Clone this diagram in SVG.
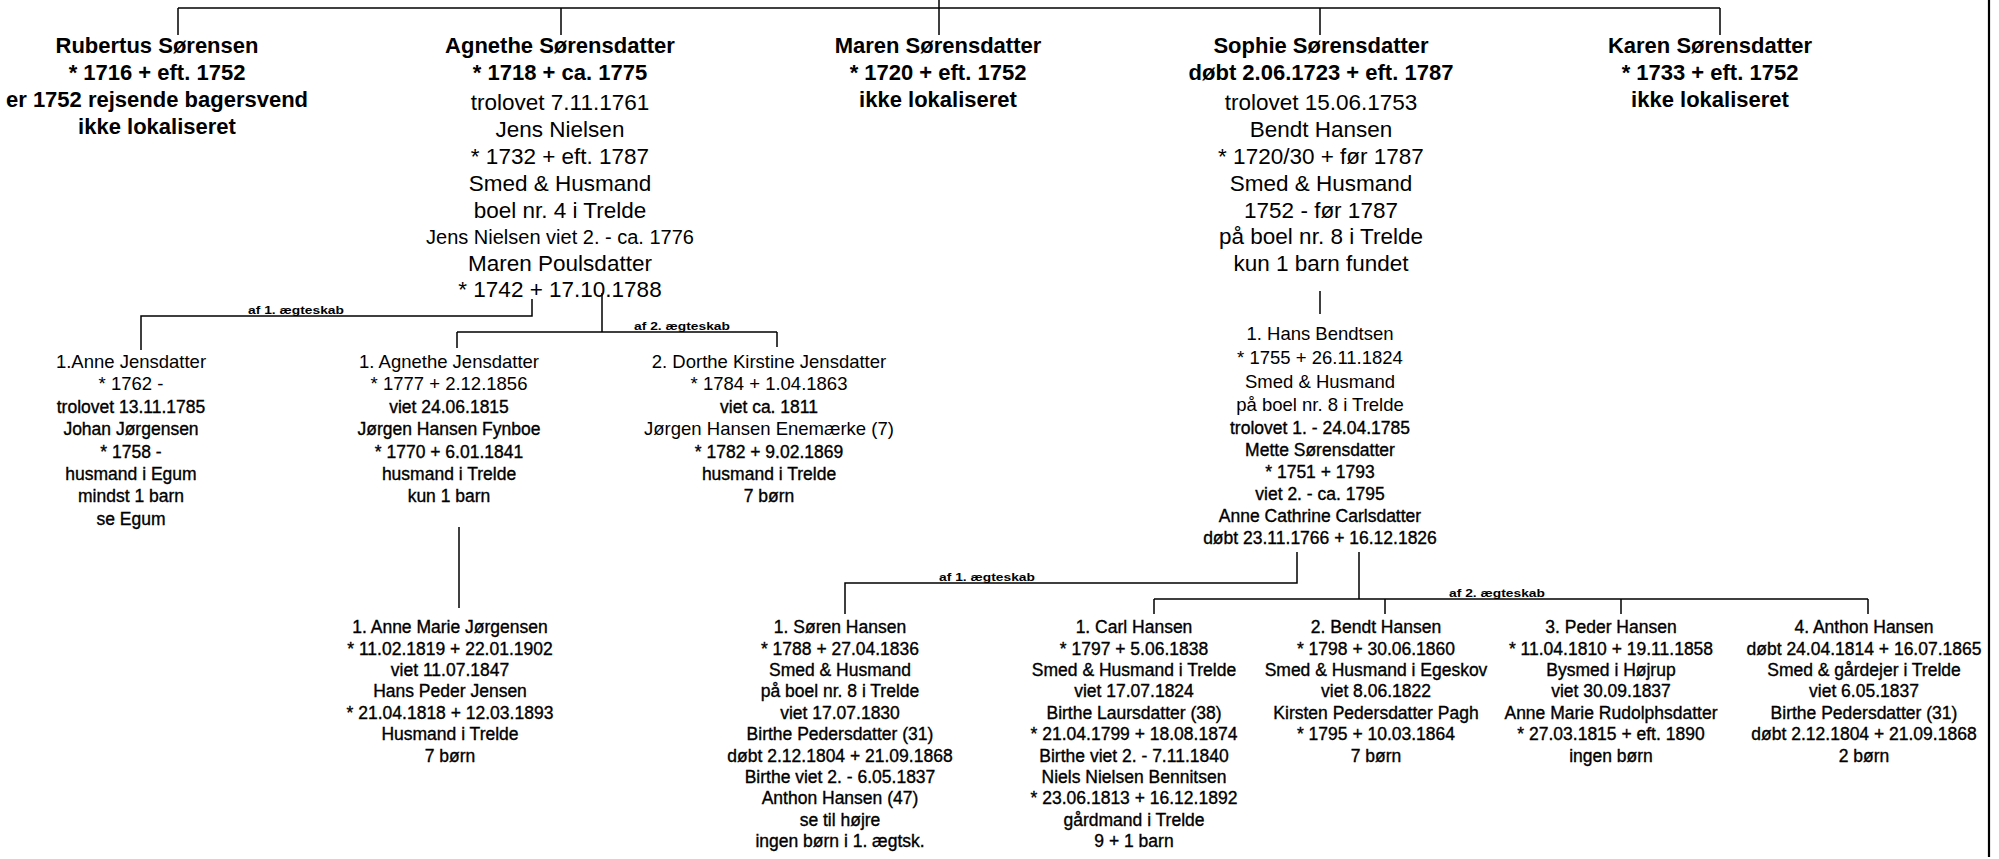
<svg xmlns="http://www.w3.org/2000/svg" width="1999" height="859" viewBox="0 0 1999 859">
<style>
text{font-family:"Liberation Sans",Arial,sans-serif;text-anchor:middle;fill:#000}
.b{font-size:22px;font-weight:bold}
.t{font-size:22.5px}
.s{font-size:20px}
.r{font-size:18.5px}
.h{font-size:17.5px;stroke:#000;stroke-width:0.35}
.lab{font-size:13.8px;font-weight:bold}
.c path{stroke:#000;stroke-width:1.5;fill:none}
</style>
<rect width="1999" height="859" fill="#fff"/>
<g class="c" id="connectors">
<path d="M178,8 H1720"/>
<path d="M178,8 V35 M561,8 V35 M939,0 V35 M1320,8 V35 M1720,8 V35"/>
<path d="M1989,0 V857" style="stroke-width:2.2"/>
<path d="M532,299 V316 H141 V350"/>
<path d="M602,293 V332 M457,332 H777 M457,332 V348 M777,332 V347"/>
<path d="M1320,291 V314"/>
<path d="M459,527 V608"/>
<path d="M1297,552 V583 H845 V614"/>
<path d="M1359,552 V599 M1154,599 H1868 M1154,599 V614 M1385,599 V614 M1621,599 V614 M1868,599 V614"/>
<text class="lab" transform="translate(296,314) scale(1,0.8)">af 1. ægteskab</text>
<text class="lab" transform="translate(682,330) scale(1,0.8)">af 2. ægteskab</text>
<text class="lab" transform="translate(987,581) scale(1,0.8)">af 1. ægteskab</text>
<text class="lab" transform="translate(1497,597) scale(1,0.8)">af 2. ægteskab</text>
</g>
<g id="rubertus">
<text class="b" x="157" y="53">Rubertus Sørensen</text>
<text class="b" x="157" y="80">* 1716 + eft. 1752</text>
<text class="b" x="157" y="107">er 1752 rejsende bagersvend</text>
<text class="b" x="157" y="134">ikke lokaliseret</text>
</g>
<g id="agnethe">
<text class="b" x="560" y="53">Agnethe Sørensdatter</text>
<text class="b" x="560" y="80">* 1718 + ca. 1775</text>
<text class="t" x="560" y="110">trolovet 7.11.1761</text>
<text class="t" x="560" y="137">Jens Nielsen</text>
<text class="t" x="560" y="164">* 1732 + eft. 1787</text>
<text class="t" x="560" y="191">Smed &amp; Husmand</text>
<text class="t" x="560" y="218">boel nr. 4 i Trelde</text>
<text class="s" x="560" y="244">Jens Nielsen viet 2. - ca. 1776</text>
<text class="t" x="560" y="271">Maren Poulsdatter</text>
<text class="t" x="560" y="297">* 1742 + 17.10.1788</text>
</g>
<g id="maren">
<text class="b" x="938" y="53">Maren Sørensdatter</text>
<text class="b" x="938" y="80">* 1720 + eft. 1752</text>
<text class="b" x="938" y="107">ikke lokaliseret</text>
</g>
<g id="sophie">
<text class="b" x="1321" y="53">Sophie Sørensdatter</text>
<text class="b" x="1321" y="80">døbt 2.06.1723 + eft. 1787</text>
<text class="t" x="1321" y="110">trolovet 15.06.1753</text>
<text class="t" x="1321" y="137">Bendt Hansen</text>
<text class="t" x="1321" y="164">* 1720/30 + før 1787</text>
<text class="t" x="1321" y="191">Smed &amp; Husmand</text>
<text class="t" x="1321" y="218">1752 - før 1787</text>
<text class="t" x="1321" y="244">på boel nr. 8 i Trelde</text>
<text class="t" x="1321" y="271">kun 1 barn fundet</text>
</g>
<g id="karen">
<text class="b" x="1710" y="53">Karen Sørensdatter</text>
<text class="b" x="1710" y="80">* 1733 + eft. 1752</text>
<text class="b" x="1710" y="107">ikke lokaliseret</text>
</g>
<g id="anne-jensdatter">
<text class="r" x="131" y="368">1.Anne Jensdatter</text>
<text class="r" x="131" y="390">* 1762 -</text>
<text class="h" x="131" y="413">trolovet 13.11.1785</text>
<text class="h" x="131" y="435">Johan Jørgensen</text>
<text class="h" x="131" y="458">* 1758 -</text>
<text class="h" x="131" y="480">husmand i Egum</text>
<text class="h" x="131" y="502">mindst 1 barn</text>
<text class="h" x="131" y="525">se Egum</text>
</g>
<g id="agnethe-jensdatter">
<text class="r" x="449" y="368">1. Agnethe Jensdatter</text>
<text class="r" x="449" y="390">* 1777 + 2.12.1856</text>
<text class="h" x="449" y="413">viet 24.06.1815</text>
<text class="h" x="449" y="435">Jørgen Hansen Fynboe</text>
<text class="h" x="449" y="458">* 1770 + 6.01.1841</text>
<text class="h" x="449" y="480">husmand i Trelde</text>
<text class="h" x="449" y="502">kun 1 barn</text>
</g>
<g id="dorthe">
<text class="r" x="769" y="368">2. Dorthe Kirstine Jensdatter</text>
<text class="r" x="769" y="390">* 1784 + 1.04.1863</text>
<text class="h" x="769" y="413">viet  ca. 1811</text>
<text class="r" x="769" y="435">Jørgen Hansen Enemærke (7)</text>
<text class="h" x="769" y="458">* 1782 + 9.02.1869</text>
<text class="h" x="769" y="480">husmand i Trelde</text>
<text class="h" x="769" y="502">7 børn</text>
</g>
<g id="hans-bendtsen">
<text class="r" x="1320" y="340">1. Hans Bendtsen</text>
<text class="r" x="1320" y="364">* 1755 + 26.11.1824</text>
<text class="r" x="1320" y="388">Smed &amp; Husmand</text>
<text class="r" x="1320" y="411">på boel nr. 8 i Trelde</text>
<text class="h" x="1320" y="434">trolovet 1. - 24.04.1785</text>
<text class="h" x="1320" y="456">Mette Sørensdatter</text>
<text class="h" x="1320" y="478">* 1751 + 1793</text>
<text class="h" x="1320" y="500">viet 2. - ca. 1795</text>
<text class="h" x="1320" y="522">Anne Cathrine Carlsdatter</text>
<text class="h" x="1320" y="544">døbt 23.11.1766 + 16.12.1826</text>
</g>
<g id="anne-marie">
<text class="h" x="450" y="633">1. Anne Marie Jørgensen</text>
<text class="h" x="450" y="654.5">* 11.02.1819 + 22.01.1902</text>
<text class="h" x="450" y="676">viet 11.07.1847</text>
<text class="h" x="450" y="697">Hans Peder Jensen</text>
<text class="h" x="450" y="718.5">* 21.04.1818 + 12.03.1893</text>
<text class="h" x="450" y="740">Husmand i Trelde</text>
<text class="h" x="450" y="761.5">7 børn</text>
</g>
<g id="soren">
<text class="h" x="840" y="633">1. Søren Hansen</text>
<text class="h" x="840" y="654.5">* 1788 + 27.04.1836</text>
<text class="h" x="840" y="676">Smed &amp; Husmand</text>
<text class="h" x="840" y="697">på boel nr. 8 i Trelde</text>
<text class="h" x="840" y="718.5">viet 17.07.1830</text>
<text class="h" x="840" y="740">Birthe Pedersdatter (31)</text>
<text class="h" x="840" y="761.5">døbt 2.12.1804 + 21.09.1868</text>
<text class="h" x="840" y="783">Birthe viet 2. - 6.05.1837</text>
<text class="h" x="840" y="804">Anthon Hansen (47)</text>
<text class="h" x="840" y="825.5">se til højre</text>
<text class="h" x="840" y="847">ingen børn i 1. ægtsk.</text>
</g>
<g id="carl">
<text class="h" x="1134" y="633">1. Carl Hansen</text>
<text class="h" x="1134" y="654.5">* 1797 + 5.06.1838</text>
<text class="h" x="1134" y="676">Smed &amp; Husmand i Trelde</text>
<text class="h" x="1134" y="697">viet 17.07.1824</text>
<text class="h" x="1134" y="718.5">Birthe Laursdatter (38)</text>
<text class="h" x="1134" y="740">* 21.04.1799 + 18.08.1874</text>
<text class="h" x="1134" y="761.5">Birthe viet 2. - 7.11.1840</text>
<text class="h" x="1134" y="783">Niels Nielsen Bennitsen</text>
<text class="h" x="1134" y="804">* 23.06.1813 + 16.12.1892</text>
<text class="h" x="1134" y="825.5">gårdmand i Trelde</text>
<text class="h" x="1134" y="847">9 + 1 barn</text>
</g>
<g id="bendt">
<text class="h" x="1376" y="633">2. Bendt Hansen</text>
<text class="h" x="1376" y="654.5">* 1798 + 30.06.1860</text>
<text class="h" x="1376" y="676">Smed &amp; Husmand i Egeskov</text>
<text class="h" x="1376" y="697">viet 8.06.1822</text>
<text class="h" x="1376" y="718.5">Kirsten Pedersdatter Pagh</text>
<text class="h" x="1376" y="740">* 1795 + 10.03.1864</text>
<text class="h" x="1376" y="761.5">7 børn</text>
</g>
<g id="peder">
<text class="h" x="1611" y="633">3. Peder Hansen</text>
<text class="h" x="1611" y="654.5">* 11.04.1810 + 19.11.1858</text>
<text class="h" x="1611" y="676">Bysmed i Højrup</text>
<text class="h" x="1611" y="697">viet 30.09.1837</text>
<text class="h" x="1611" y="718.5">Anne Marie Rudolphsdatter</text>
<text class="h" x="1611" y="740">* 27.03.1815 + eft. 1890</text>
<text class="h" x="1611" y="761.5">ingen børn</text>
</g>
<g id="anthon">
<text class="h" x="1864" y="633">4. Anthon Hansen</text>
<text class="h" x="1864" y="654.5">døbt 24.04.1814 + 16.07.1865</text>
<text class="h" x="1864" y="676">Smed &amp; gårdejer i Trelde</text>
<text class="h" x="1864" y="697">viet 6.05.1837</text>
<text class="h" x="1864" y="718.5">Birthe Pedersdatter (31)</text>
<text class="h" x="1864" y="740">døbt 2.12.1804 + 21.09.1868</text>
<text class="h" x="1864" y="761.5">2 børn</text>
</g>
</svg>
